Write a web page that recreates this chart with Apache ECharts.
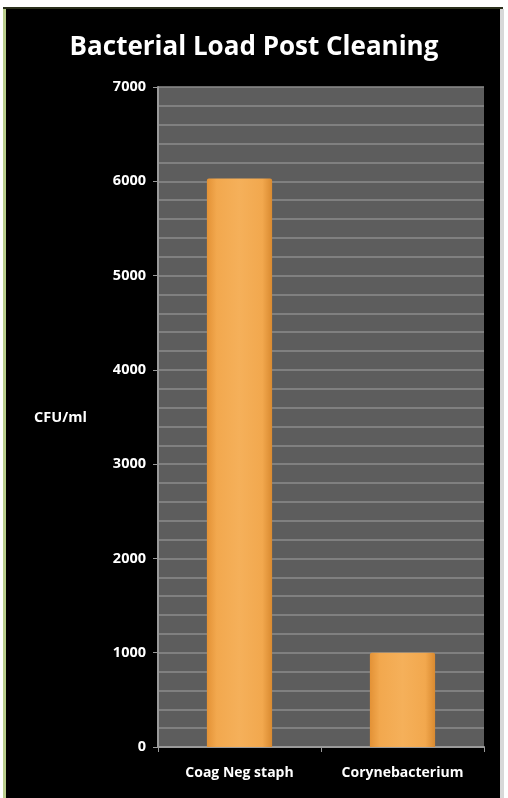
<!DOCTYPE html>
<html>
<head>
<meta charset="utf-8">
<script src="https://cdn.jsdelivr.net/npm/echarts@6/dist/echarts.min.js"></script>
<style>
html,body{margin:0;padding:0;background:#fff;}
#c{width:508px;height:798px;}
</style>
</head>
<body>
<div id="c"></div>
<script>
var categories = ["Coag Neg staph", "Corynebacterium"];
var values = [6030, 1000];
var titleText = "Bacterial Load Post Cleaning";
var yName = "CFU/ml";

var chart = echarts.init(document.getElementById('c'));
var font = '"Open Sans"';
chart.setOption({
  backgroundColor: '#ffffff',
  animation: false,
  graphic: [
    {type:'rect', shape:{x:3,y:7,width:500,height:791}, style:{fill:'#2a2f1c'}, z:-10},
    {type:'rect', shape:{x:3,y:9,width:3,height:789}, style:{fill:'#b9cc8c'}, z:-9},
    {type:'rect', shape:{x:500,y:9,width:4,height:789}, style:{fill:'#d8d8d8'}, z:-9},
    {type:'rect', shape:{x:6,y:9,width:494,height:789}, style:{fill:'#000000'}, z:-8},
    {type:'text', left:34, top:410, style:{text:yName, fill:'#ffffff', font:'bold 14.5px ' + font}}
  ],
  title: {
    text: titleText,
    left: 'center',
    top: 30,
    textStyle: {color:'#ffffff', fontSize:26, fontWeight:'bold', fontFamily:font}
  },
  grid: {
    left:158, right:24, top:87, bottom:51,
    show:true, backgroundColor:'#5d5d5d', borderWidth:0
  },
  xAxis: {
    type:'category',
    data: categories,
    axisLine:{show:true, lineStyle:{color:'#9a9a9a', width:2}},
    axisTick:{show:true, length:5, lineStyle:{color:'#9a9a9a'}},
    axisLabel:{color:'#ffffff', fontSize:14, fontWeight:'bold', fontFamily:font, margin:19,
      interval:0, hideOverlap:false}
  },
  yAxis: {
    type:'value',
    min:0, max:7000, interval:1000,
    axisLine:{show:true, lineStyle:{color:'#9a9a9a', width:2}},
    axisTick:{show:true, length:5, lineStyle:{color:'#9a9a9a'}},
    axisLabel:{color:'#ffffff', fontSize:14.5, fontWeight:'bold', fontFamily:font, margin:12,
      formatter:function(v){return String(v);}},
    splitLine:{show:true, lineStyle:{color:'#8c8c8c', width:1.5}},
    minorTick:{show:false, splitNumber:5},
    minorSplitLine:{show:true, lineStyle:{color:'#8c8c8c', width:1.5}}
  },
  series: [{
    type:'bar',
    data: values,
    barWidth:'40%',
    itemStyle:{
      color: new echarts.graphic.LinearGradient(0,0,1,0,[
        {offset:0, color:'#e39236'},
        {offset:0.15, color:'#f2a84e'},
        {offset:0.5, color:'#f5b05a'},
        {offset:0.85, color:'#f2a84e'},
        {offset:1, color:'#d98a30'}
      ]),
      borderRadius:[2,2,0,0]
    }
  }]
});
</script>
</body>
</html>
